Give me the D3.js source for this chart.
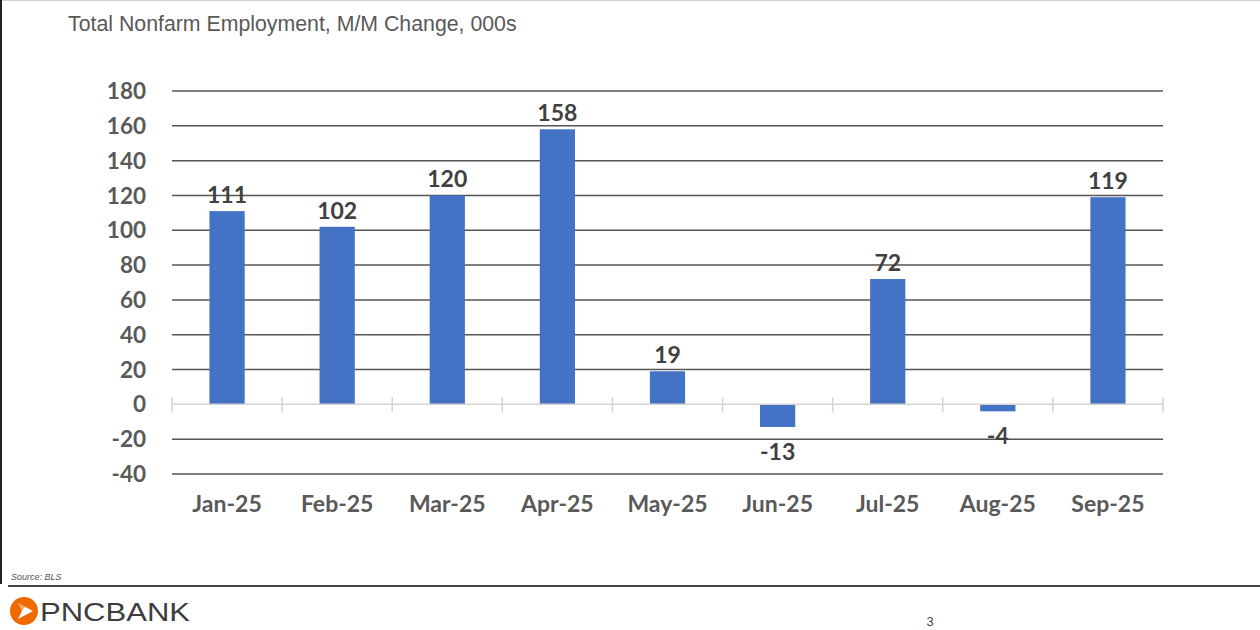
<!DOCTYPE html>
<html>
<head>
<meta charset="utf-8">
<script src="https://cdn.jsdelivr.net/npm/d3@7"></script>
<style>
  body { margin: 0; background: #fff; }
  svg { display: block; }
</style>
</head>
<body>
<script>
// monthly change in nonfarm payrolls, thousands
var months = ["Jan-25", "Feb-25", "Mar-25", "Apr-25", "May-25", "Jun-25", "Jul-25", "Aug-25", "Sep-25"];
var values = [111, 102, 120, 158, 19, -13, 72, -4, 119];
var yTicks = [180, 160, 140, 120, 100, 80, 60, 40, 20, 0, -20, -40];

var width = 1260, height = 630;
var svg = d3.select("body").append("svg").attr("width", width).attr("height", height);

// slide frame
svg.append("line").attr("x1", 0).attr("x2", width).attr("y1", 0.5).attr("y2", 0.5)
  .attr("stroke", "#d0d0d0").attr("stroke-width", 1);
svg.append("line").attr("x1", 1).attr("x2", 1).attr("y1", 0).attr("y2", 584)
  .attr("stroke", "#222").attr("stroke-width", 2);

svg.append("text")
  .attr("x", 68).attr("y", 31)
  .attr("font-family", "Liberation Sans, Arial, sans-serif")
  .attr("font-size", "21.3px")
  .attr("fill", "#595959")
  .text("Total Nonfarm Employment, M/M Change, 000s");

var x = d3.scaleBand().domain(months).range([172, 1163]).paddingInner(0.68).paddingOuter(0.34);
var y = d3.scaleLinear().domain([-40, 180]).range([474, 91]);

var g = svg.append("g");
var font = "Lato, Calibri, sans-serif";

// gridlines (zero line drawn separately as the category axis)
g.selectAll("line.grid")
  .data(yTicks.filter(d => d !== 0))
  .enter().append("line")
  .attr("class", "grid")
  .attr("x1", 172).attr("x2", 1163)
  .attr("y1", d => y(d)).attr("y2", d => y(d))
  .attr("stroke", "#555").attr("stroke-width", 1.5);

// y labels
g.selectAll("text.ylab")
  .data(yTicks)
  .enter().append("text")
  .attr("class", "ylab")
  .attr("x", 146).attr("y", d => y(d))
  .attr("dy", "0.36em")
  .attr("text-anchor", "end")
  .attr("font-family", font).attr("font-weight", "bold")
  .attr("font-size", "22.5px").attr("fill", "#595959")
  .text(d => d);

// bars
g.selectAll("rect.bar")
  .data(values)
  .enter().append("rect")
  .attr("class", "bar")
  .attr("x", (d, i) => x(months[i]))
  .attr("width", x.bandwidth())
  .attr("y", d => y(Math.max(0, d)))
  .attr("height", d => Math.abs(y(d) - y(0)))
  .attr("fill", "#4472C4");

// zero axis with tick marks between categories
g.append("line")
  .attr("x1", 172).attr("x2", 1163)
  .attr("y1", y(0)).attr("y2", y(0))
  .attr("stroke", "#d3d3d3").attr("stroke-width", 1.5);
g.selectAll("line.tick")
  .data(d3.range(months.length + 1))
  .enter().append("line")
  .attr("class", "tick")
  .attr("x1", i => 172 + i * (991 / months.length))
  .attr("x2", i => 172 + i * (991 / months.length))
  .attr("y1", y(0) - 7).attr("y2", y(0) + 8)
  .attr("stroke", "#d3d3d3").attr("stroke-width", 1.5);

// data labels
g.selectAll("text.val")
  .data(values)
  .enter().append("text")
  .attr("class", "val")
  .attr("x", (d, i) => x(months[i]) + x.bandwidth() / 2)
  .attr("y", d => d >= 0 ? y(d) - 8 : y(d) + 33)
  .attr("text-anchor", "middle")
  .attr("font-family", font).attr("font-weight", "bold")
  .attr("font-size", "23px").attr("fill", "#404040")
  .text(d => d);

// x labels
g.selectAll("text.xlab")
  .data(months)
  .enter().append("text")
  .attr("class", "xlab")
  .attr("x", d => x(d) + x.bandwidth() / 2)
  .attr("y", 512)
  .attr("text-anchor", "middle")
  .attr("font-family", font).attr("font-weight", "bold")
  .attr("font-size", "23px").attr("fill", "#595959")
  .text(d => d);

// footer
svg.append("text")
  .attr("x", 11).attr("y", 580)
  .attr("font-family", "Liberation Sans, Arial, sans-serif")
  .attr("font-style", "italic")
  .attr("font-size", "9px").attr("fill", "#555")
  .text("Source: BLS");
svg.append("line").attr("x1", 8).attr("x2", width).attr("y1", 586).attr("y2", 586)
  .attr("stroke", "#444").attr("stroke-width", 2);

var logo = svg.append("g").attr("transform", "translate(24,611)");
logo.append("circle").attr("r", 14).attr("fill", "#EF6A00");
logo.append("path").attr("d", "M-6,-8 L9,0 L-6,8 L-2,0 Z").attr("fill", "#fff");
logo.append("path").attr("d", "M-6,-8 L1,-4 L-3,0 Z").attr("fill", "#EF6A00").attr("opacity", 0.6);
svg.append("text")
  .attr("x", 40).attr("y", 621)
  .attr("font-family", "Liberation Sans, Arial, sans-serif")
  .attr("font-size", "26px").attr("fill", "#3d3d3d")
  .attr("textLength", 150)
  .attr("lengthAdjust", "spacingAndGlyphs")
  .text("PNCBANK");

svg.append("text")
  .attr("x", 930).attr("y", 626)
  .attr("text-anchor", "middle")
  .attr("font-family", "Liberation Sans, Arial, sans-serif")
  .attr("font-size", "13px").attr("fill", "#444")
  .text("3");
</script>
</body>
</html>
